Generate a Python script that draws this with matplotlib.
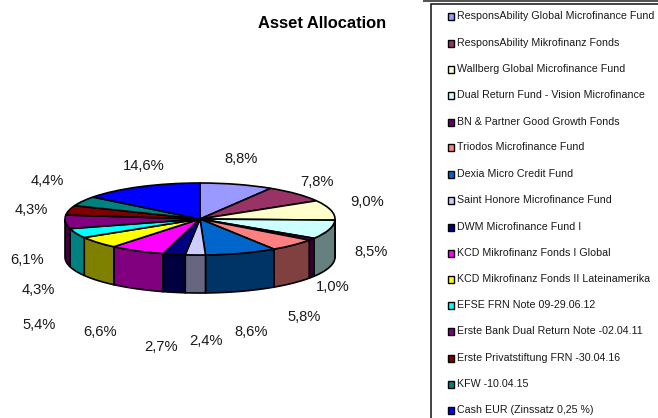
import numpy as np
import matplotlib
matplotlib.use("Agg")
import matplotlib.pyplot as plt
from matplotlib.patches import Rectangle

plt.rcParams['font.family'] = ['Liberation Sans', 'DejaVu Sans']

title = "Asset Allocation"
funds = ["ResponsAbility Global Microfinance Fund", "ResponsAbility Mikrofinanz Fonds",
         "Wallberg Global Microfinance Fund", "Dual Return Fund - Vision Microfinance",
         "BN & Partner Good Growth Fonds", "Triodos Microfinance Fund",
         "Dexia Micro Credit Fund", "Saint Honore Microfinance Fund",
         "DWM Microfinance Fund I", "KCD Mikrofinanz Fonds I Global",
         "KCD Mikrofinanz Fonds II Lateinamerika", "EFSE FRN Note 09-29.06.12",
         "Erste Bank Dual Return Note -02.04.11", "Erste Privatstiftung FRN -30.04.16",
         "KFW -10.04.15", "Cash EUR (Zinssatz 0,25 %)"]
shares = [8.8, 7.8, 9.0, 8.5, 1.0, 5.8, 8.6, 2.4, 2.7, 6.6, 5.4, 4.3, 6.1, 4.3, 4.4, 14.6]
top_colors = ["#9999FF", "#993366", "#FFFFCC", "#CCFFFF", "#660066", "#FF8080",
              "#0066CC", "#CCCCFF", "#000080", "#FF00FF", "#FFFF00", "#00FFFF",
              "#800080", "#800000", "#008080", "#0000FF"]
side_colors = ["#4C4C80", "#4C1933", "#808066", "#668080", "#330033", "#804040",
               "#003366", "#666680", "#000040", "#800080", "#808000", "#008080",
               "#400040", "#400000", "#004040", "#000080"]

# layout, in pixels of the 658x418 picture
W, H = 658, 418
CX, CY, RX, RY, DEPTH = 200.0, 219.0, 135.0, 36.0, 38.0
label_xy = [(241, 159), (317, 182), (367, 202), (371, 252), (333, 287), (304, 317),
            (251, 332), (206, 341), (161, 347), (100, 332), (39, 325), (38, 290),
            (27, 260), (31, 210), (47, 181), (144, 166)]
legend_y = [16, 43, 69, 95, 122, 147, 174, 200, 227, 253, 279, 305, 331, 358, 384, 410]

fig = plt.figure(figsize=(W / 100, H / 100), dpi=100, facecolor="white")
bg = fig.add_axes([0, 0, 1, 1])
bg.set_xlim(0, W); bg.set_ylim(H, 0); bg.axis("off")

ax = fig.add_axes([(CX - RX) / W, 1 - (CY + RY) / H, 2 * RX / W, 2 * RY / H])

# clockwise angle from 12 o'clock -> from the shares
edges = np.concatenate([[0.0], np.cumsum(shares)]) / sum(shares) * 2 * np.pi
d = DEPTH / RY

def side(a0, a1, color, z):
    # only the front half (90..270 degrees clockwise from the top) is visible
    lo, hi = max(a0, np.pi / 2), min(a1, 3 * np.pi / 2)
    if hi <= lo:
        return
    t = np.linspace(lo, hi, 40)
    x, y = np.sin(t), np.cos(t)
    ax.fill(np.r_[x, x[::-1]], np.r_[y, y[::-1] - d], facecolor=color,
            edgecolor="black", linewidth=1.2, zorder=z, clip_on=False, joinstyle="miter")

for i in range(len(shares)):
    side(edges[i], edges[i + 1], side_colors[i], 1)

wedges, _ = ax.pie(shares, colors=top_colors, startangle=90, counterclock=False, radius=1,
                   wedgeprops=dict(edgecolor="black", linewidth=1.2, zorder=2))
for w in wedges:
    w.set_clip_on(False)
ax.set_aspect("auto")
ax.set_xlim(-1, 1); ax.set_ylim(-1, 1)
ax.axis("off")

for v, (x, y) in zip(shares, label_xy):
    bg.text(x, y, f"{v:.1f}%".replace(".", ","), ha="center", va="center",
            fontsize=10.6, color="#1a1a1a", zorder=5)

bg.text(322, 24, title, ha="center", va="center", fontsize=11.9, fontweight="bold", color="black")

# cropped dark rule along the very top of the picture
bg.plot([423, W], [0.5, 0.5], color="#333333", linewidth=1.2, solid_capstyle="butt")

# legend box runs off the picture on the right and at the bottom
bg.add_patch(Rectangle((430.5, 3.5), 300, 500, facecolor="white", edgecolor="#222222", linewidth=1.2))
for name, col, y in zip(funds, top_colors, legend_y):
    bg.add_patch(Rectangle((447.5, y - 3), 6.5, 6.5, facecolor=col, edgecolor="black", linewidth=1.0))
    bg.text(457, y, name, ha="left", va="center", fontsize=7.7, color="#1a1a1a")

fig.savefig("out.png", dpi=100)
